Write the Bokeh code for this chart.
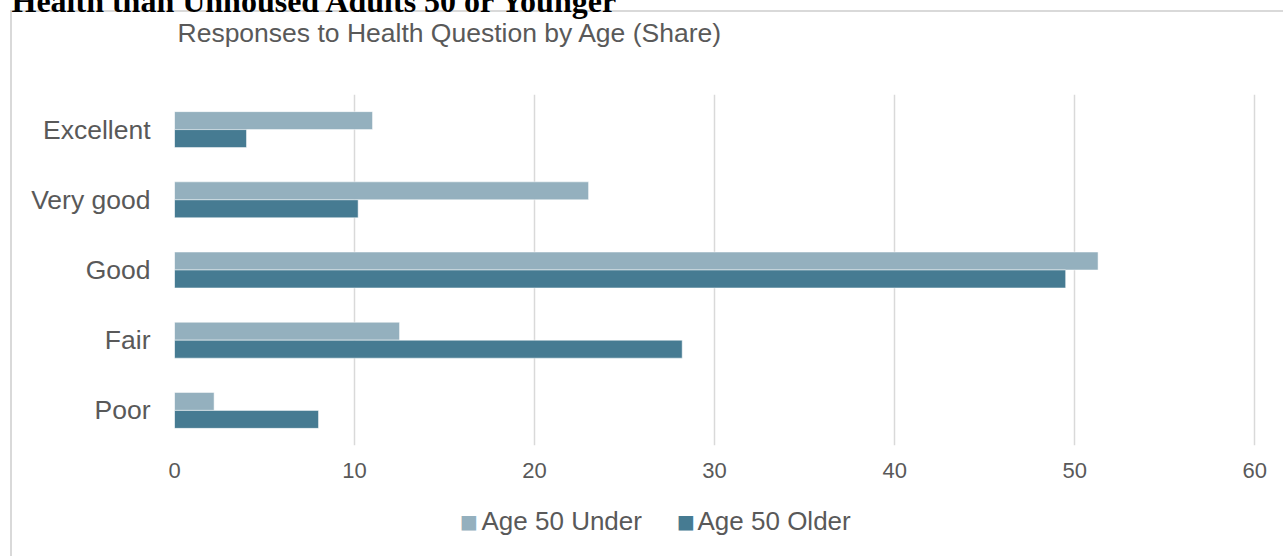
from bokeh.plotting import figure
from bokeh.models import ColumnDataSource, FactorRange, Range1d, FixedTicker, Title
from bokeh.transform import dodge
from bokeh.embed import file_html
from bokeh.resources import INLINE

# Survey responses, share of respondents (%)
categories = ["Excellent", "Very good", "Good", "Fair", "Poor"]
age_50_under = [11.0, 23.0, 51.3, 12.5, 2.2]
age_50_older = [4.0, 10.2, 49.5, 28.2, 8.0]
x_ticks = [0, 10, 20, 30, 40, 50, 60]

header_text = "Health than Unhoused Adults 50 or Younger"
chart_title = "Responses to Health Question by Age (Share)"
series_names = ["Age 50 Under", "Age 50 Older"]

LIGHT = "#94B0BE"
DARK = "#467B92"
TEXT = "#595959"
EDGE = "#d9d9d9"
FONT = "Liberation Sans"

source = ColumnDataSource(dict(cat=categories, under=age_50_under, older=age_50_older))

p = figure(
    y_range=FactorRange(factors=categories[::-1], range_padding=0),
    x_range=Range1d(0, 60.1),
    frame_width=1082, frame_height=351,
    min_border_left=174, min_border_right=27,
    min_border_top=94, min_border_bottom=111,
    output_backend="svg", toolbar_location=None,
    background_fill_color="white", border_fill_color=None,
    outline_line_color=None,
)

# chart-area border along the top and left edges, drawn behind the canvas
p.styles = {
    "background": (f"linear-gradient({EDGE}, {EDGE}) 10px 10px / 1400px 2px no-repeat, "
                   f"linear-gradient({EDGE}, {EDGE}) 10px 10px / 2px 700px no-repeat, #ffffff"),
}

bar_h = 0.256
p.hbar(y=dodge("cat", bar_h / 2, range=p.y_range), left=0, right="under",
       height=bar_h, source=source, fill_color=LIGHT,
       line_color="white", line_alpha=0.5, line_width=1)
p.hbar(y=dodge("cat", -bar_h / 2, range=p.y_range), left=0, right="older",
       height=bar_h, source=source, fill_color=DARK,
       line_color="white", line_alpha=0.5, line_width=1)

# axes
p.xaxis.ticker = FixedTicker(ticks=x_ticks)
p.xaxis.axis_line_color = None
p.xaxis.major_tick_line_color = None
p.xaxis.minor_tick_line_color = None
p.xaxis.major_tick_out = 0
p.xaxis.major_tick_in = 0
p.xaxis.major_label_text_font = FONT
p.xaxis.major_label_text_font_size = "22px"
p.xaxis.major_label_text_color = TEXT
p.xaxis.major_label_standoff = 17

p.yaxis.axis_line_color = None
p.yaxis.major_tick_line_color = None
p.yaxis.minor_tick_line_color = None
p.yaxis.major_tick_out = 0
p.yaxis.major_tick_in = 0
p.yaxis.major_label_text_font = FONT
p.yaxis.major_label_text_font_size = "26.5px"
p.yaxis.major_label_text_color = TEXT
p.yaxis.major_label_standoff = 24

p.ygrid.grid_line_color = None
p.xgrid.grid_line_color = EDGE
p.xgrid.grid_line_width = 1.5

# titles above the frame: spacer (nearest the frame), chart title, page header
p.add_layout(Title(text=" ", text_font_size="1px", standoff=30), "above")
p.add_layout(Title(text=chart_title, text_font=FONT, text_font_size="26.5px",
                   text_font_style="normal", text_color=TEXT, align="left",
                   offset=3, vertical_align="bottom", standoff=26.8), "above")
p.add_layout(Title(text=header_text, text_font="Liberation Serif",
                   text_font_size="32px", text_font_style="bold",
                   text_color="black", align="left", offset=-163,
                   vertical_align="top", standoff=-37.4), "above")

# series key below the axis: a spacer, then swatches and names sharing one row
p.add_layout(Title(text=" ", text_font_size="1px", standoff=36.5), "below")
key_entries = [
    ("\u25A0", LIGHT, "DejaVu Sans", "19px", 285.5, -24.1),
    (series_names[0], TEXT, FONT, "26px", 307, -32.0),
    ("\u25A0", DARK, "DejaVu Sans", "19px", 502.5, -24.1),
    (series_names[1], TEXT, FONT, "26px", 523, -32.0),
]
for txt, color, font, size, off, stand in key_entries:
    p.add_layout(Title(text=txt, text_color=color, text_font=font,
                       text_font_size=size, text_font_style="normal",
                       align="left", offset=off, vertical_align="middle",
                       standoff=stand), "below")

open("out.html", "w").write(file_html(p, INLINE))
